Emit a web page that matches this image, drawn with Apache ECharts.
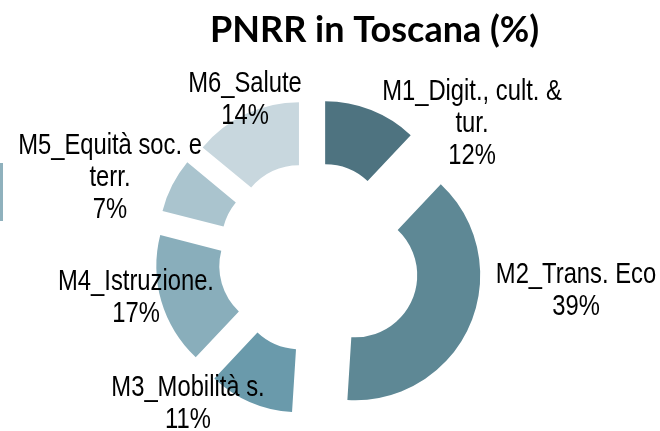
<!DOCTYPE html>
<html>
<head>
<meta charset="utf-8">
<script src="https://cdn.jsdelivr.net/npm/echarts@6/dist/echarts.min.js"></script>
<style>
html,body{margin:0;padding:0;background:#fff;}
#chart{width:660px;height:431px;}
</style>
</head>
<body>
<div id="chart"></div>
<script>
// ---- data ----
const categories = ['M1_Digit., cult. &\ntur.', 'M2_Trans. Eco', 'M3_Mobilità s.', 'M4_Istruzione.', 'M5_Equità soc. e\nterr.', 'M6_Salute'];
const shares = [12, 39, 11, 17, 7, 14];
const titleText = 'PNRR in Toscana (%)';

// ---- styles / layout ----
const colors = ['#4E7380', '#5E8895', '#6A9AAB', '#89AEBB', '#AAC4CE', '#C8D7DE'];
const labelAnchors = [[472, 124], [576, 291], [188, 404], [136, 298], [110, 178], [245, 100]];
const bigOffsetIndex = 1;

function buildData(visibleFn) {
  return shares.map((v, i) => {
    const vis = visibleFn(i);
    return {
      name: categories[i],
      value: v,
      selected: true,
      itemStyle: { color: vis ? colors[i] : 'rgba(0,0,0,0)' }
    };
  });
}

function pieSeries(visibleFn, offset) {
  return {
    type: 'pie',
    center: [313, 257],
    radius: [62, 125],
    startAngle: 90,
    clockwise: true,
    selectedMode: 'multiple',
    selectedOffset: offset,
    silent: true,
    animation: false,
    label: { show: false },
    labelLine: { show: false },
    emphasis: { disabled: true },
    select: { itemStyle: { borderWidth: 0 } },
    data: buildData(visibleFn)
  };
}

// Data labels (Arial-Narrow look: Liberation Sans condensed horizontally)
const labelGraphics = shares.map((v, i) => ({
  type: 'text',
  x: labelAnchors[i][0],
  y: labelAnchors[i][1],
  scaleX: 0.82,
  z: 100,
  silent: true,
  style: {
    text: categories[i] + '\n' + v + '%',
    fontFamily: "'Liberation Sans', Arial, sans-serif",
    fontSize: 29,
    lineHeight: 32,
    fill: '#000',
    align: 'center',
    verticalAlign: 'middle'
  }
}));

const chart = echarts.init(document.getElementById('chart'), null, { renderer: 'canvas' });
chart.setOption({
  animation: false,
  title: {
    text: titleText,
    left: 205,
    top: 7,
    textStyle: { fontFamily: 'Lato', fontWeight: 'bold', fontSize: 36, color: '#000' }
  },
  graphic: [{
    type: 'rect',
    shape: { x: 0, y: 163, width: 3, height: 58 },
    style: { fill: '#8FB1BD' },
    silent: true
  }].concat(labelGraphics),
  series: [
    pieSeries(i => i !== bigOffsetIndex, 33),
    pieSeries(i => i === bigOffsetIndex, 46)
  ]
});
</script>
</body>
</html>
